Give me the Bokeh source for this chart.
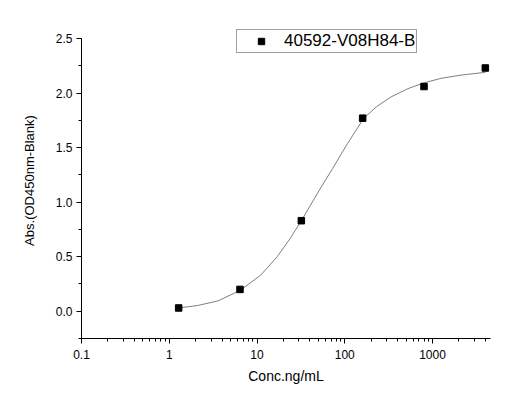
from bokeh.plotting import figure
from bokeh.models import (FixedTicker, Range1d, Legend, LegendItem,
                          SingleIntervalTicker, PrintfTickFormatter)
from bokeh.embed import file_html
from bokeh.resources import INLINE

# ---- data ----
conc = [1.28, 6.4, 32, 160, 800, 4000]
absorb = [0.03, 0.20, 0.83, 1.77, 2.06, 2.23]

fit_conc = [1.28, 2.1, 3.6, 6.4, 11, 17, 24, 32, 54, 73, 91, 108, 165,
            230, 337, 523, 809, 1254, 2118, 4000]
fit_abs = [0.03, 0.052, 0.095, 0.19, 0.33, 0.50, 0.67, 0.83, 1.14, 1.31, 1.44, 1.54, 1.77,
           1.875, 1.965, 2.04, 2.095, 2.135, 2.165, 2.19]

x_ticks = [0.1, 1, 10, 100, 1000]
x_tick_labels = ["0.1", "1", "10", "100", "1000"]
series_name = "40592-V08H84-B"
x_title = "Conc.ng/mL"
y_title = "Abs.(OD450nm-Blank)"

FONT = "Liberation Sans"

p = figure(width=518, height=411, x_axis_type="log",
           x_range=Range1d(0.1, 4580), y_range=Range1d(-0.25, 2.647),
           output_backend="svg", toolbar_location=None,
           min_border_left=81, min_border_right=28,
           min_border_top=22, min_border_bottom=73)
p.outline_line_color = None
p.xgrid.visible = False
p.ygrid.visible = False
p.background_fill_color = "white"
p.border_fill_color = "white"

# fitted curve
p.line(fit_conc, fit_abs, line_color="#7f7f7f", line_width=1)
# measured points
sq = p.scatter(conc, absorb, marker="square", size=6.5,
               fill_color="black", line_color="black")

# x axis
minor = [m * d for d in [0.1, 1, 10, 100, 1000] for m in range(2, 10) if m * d <= 4580]
xa = p.xaxis[0]
xa.ticker = FixedTicker(ticks=x_ticks, minor_ticks=minor)
xa.major_label_overrides = {t: l for t, l in zip(x_ticks, x_tick_labels)}
xa.axis_label = x_title

# y axis
ya = p.yaxis[0]
ya.ticker = SingleIntervalTicker(interval=0.5, num_minor_ticks=2)
ya.formatter = PrintfTickFormatter(format="%.1f")
ya.axis_label = y_title
ya.bounds = (-0.25, 2.5)

for ax in (xa, ya):
    ax.axis_line_color = "black"
    ax.axis_line_width = 1
    ax.major_tick_line_color = "black"
    ax.minor_tick_line_color = "black"
    ax.major_tick_in = 0
    ax.major_tick_out = 5
    ax.minor_tick_in = 0
    ax.minor_tick_out = 3
    ax.major_label_text_font = FONT
    ax.major_label_text_font_size = "12px"
    ax.major_label_text_color = "black"
    ax.axis_label_text_font = FONT
    ax.axis_label_text_font_style = "normal"
    ax.axis_label_text_color = "black"

xa.axis_label_text_font_size = "14px"
ya.axis_label_text_font_size = "13px"
ya.major_label_standoff = 4
ya.axis_label_standoff = 16
xa.major_label_standoff = 6
xa.axis_label_standoff = 6

legend = Legend(items=[LegendItem(label=series_name, renderers=[sq])],
                location=(155, 285))
legend.label_text_font = FONT
legend.label_text_font_size = "17px"
legend.label_text_color = "black"
legend.border_line_color = "#404040"
legend.border_line_width = 1
legend.background_fill_color = "white"
legend.background_fill_alpha = 1
legend.padding = 1
legend.margin = 0
legend.glyph_width = 46
legend.glyph_height = 16
legend.label_height = 16
legend.label_standoff = 0
p.add_layout(legend)

open("out.html", "w").write(file_html(p, INLINE))
